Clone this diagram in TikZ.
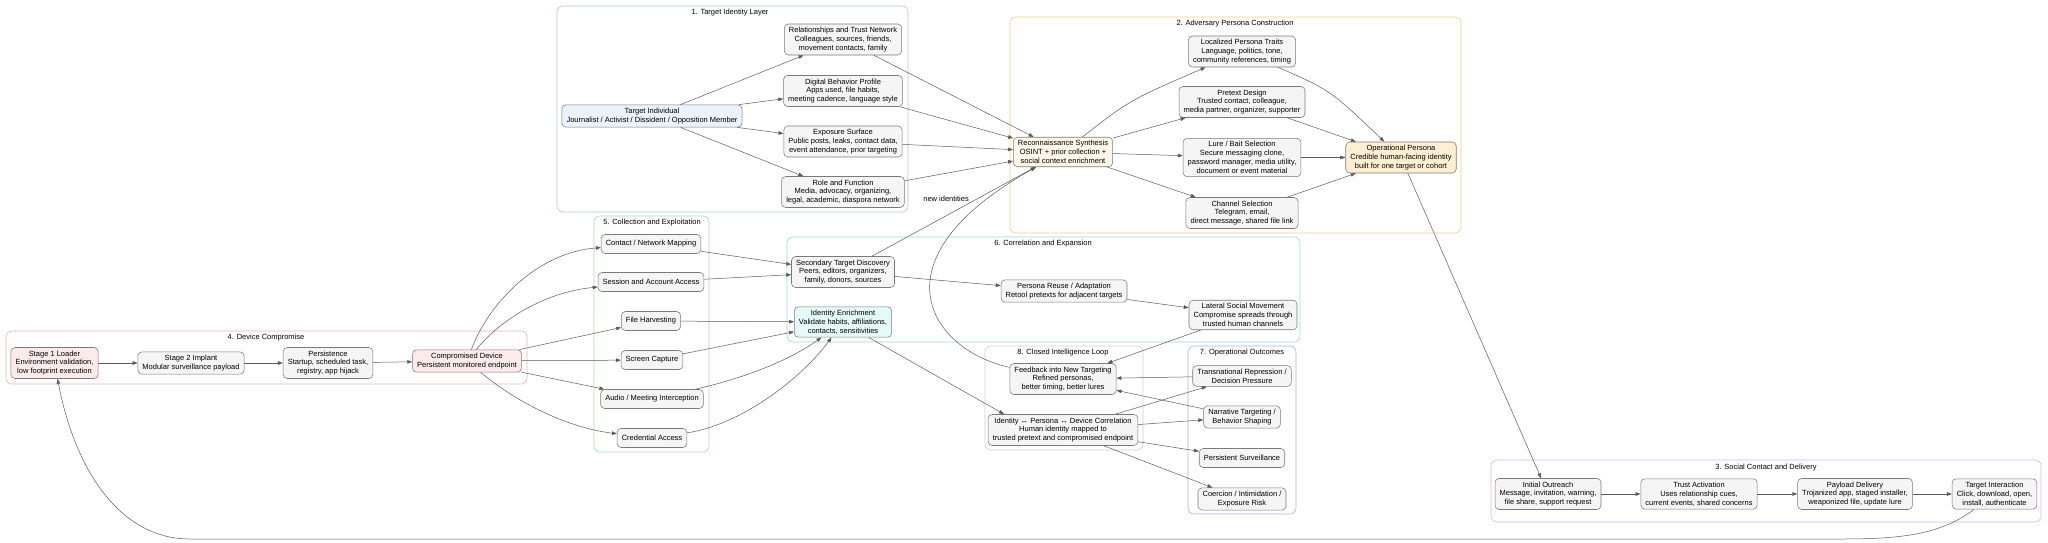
\documentclass[tikz,border=0pt]{standalone}
\usepackage{fontspec}
\setmainfont{Liberation Sans}
\usetikzlibrary{arrows.meta}
\definecolor{edgegray}{HTML}{5A5A5A}
\definecolor{nodegray}{HTML}{7A7A7A}
\definecolor{nodefill}{HTML}{F5F5F5}
\definecolor{bluefill}{HTML}{EAF2FC}
\definecolor{creamfill}{HTML}{FFF7EA}
\definecolor{orangefill}{HTML}{FFEFD2}
\definecolor{pinkfill}{HTML}{FDEAEA}
\definecolor{cyanfill}{HTML}{E6F9F9}
\definecolor{grpblue}{HTML}{A9C4E8}
\definecolor{grporange}{HTML}{F2CF7E}
\definecolor{grpviolet}{HTML}{D3B5F2}
\definecolor{grpred}{HTML}{E9B3B3}
\definecolor{grpgreen}{HTML}{A3DBB3}
\definecolor{grpteal}{HTML}{9FD6D6}
\definecolor{grppurple}{HTML}{ADADEB}
\definecolor{grpgray}{HTML}{CFCFCF}
\begin{document}
\begin{tikzpicture}[x=1pt,y=-1pt,
  font=\fontsize{7.5}{8.8}\selectfont,
  box/.style={draw=nodegray, fill=nodefill, rounded corners=4pt, align=center,
    inner xsep=4.6pt, inner ysep=3.2pt, minimum height=19pt, line width=0.55pt},
  grp/.style={rounded corners=6pt, line width=0.6pt},
  ttl/.style={inner sep=0pt},
  edge/.style={draw=edgegray, line width=0.5pt, -{Triangle[length=5pt,width=3.6pt]}},
]
  \useasboundingbox (0,0) rectangle (2048,542);

  %% clusters
  \draw[grp, draw=grpblue] (557,6) rectangle (908,212);
  \node[ttl] at (730,13) {1. Target Identity Layer};
  \draw[grp, draw=grporange] (1010,17) rectangle (1461,233);
  \node[ttl] at (1235,24) {2. Adversary Persona Construction};
  \draw[grp, draw=grpviolet] (1491,460) rectangle (2041,522);
  \node[ttl] at (1766,468) {3. Social Contact and Delivery};
  \draw[grp, draw=grpred] (6,331) rectangle (527,384);
  \node[ttl] at (266,338) {4. Device Compromise};
  \draw[grp, draw=grpgreen] (594,216) rectangle (709,452);
  \node[ttl] at (652,223) {5. Collection and Exploitation};
  \draw[grp, draw=grpteal] (787,237) rectangle (1300,342);
  \node[ttl] at (1043,244) {6. Correlation and Expansion};
  \draw[grp, draw=grppurple] (1188,346) rectangle (1296,514);
  \node[ttl] at (1242,353) {7. Operational Outcomes};
  \draw[grp, draw=grpgray] (985,346) rectangle (1143,450);
  \node[ttl] at (1063,353) {8. Closed Intelligence Loop};

  %% target identity layer
  \node[box, fill=bluefill] (tgt) at (652,116) {Target Individual\\Journalist / Activist / Dissident / Opposition Member};
  \node[box] (rel) at (843,39.5) {Relationships and Trust Network\\Colleagues, sources, friends,\\movement contacts, family};
  \node[box] (dig) at (843,91) {Digital Behavior Profile\\Apps used, file habits,\\meeting cadence, language style};
  \node[box] (exp) at (843,141.5) {Exposure Surface\\Public posts, leaks, contact data,\\event attendance, prior targeting};
  \node[box] (role) at (843,192) {Role and Function\\Media, advocacy, organizing,\\legal, academic, diaspora network};

  %% adversary persona construction
  \node[box, fill=creamfill] (recon) at (1063,152) {Reconnaissance Synthesis\\OSINT + prior collection +\\social context enrichment};
  \node[box] (traits) at (1242,51.5) {Localized Persona Traits\\Language, politics, tone,\\community references, timing};
  \node[box] (pretext) at (1242,102) {Pretext Design\\Trusted contact, colleague,\\media partner, organizer, supporter};
  \node[box] (lure) at (1242,157.5) {Lure / Bait Selection\\Secure messaging clone,\\password manager, media utility,\\document or event material};
  \node[box] (channel) at (1242,213) {Channel Selection\\Telegram, email,\\direct message, shared file link};
  \node[box, fill=orangefill] (oper) at (1401,157.5) {Operational Persona\\Credible human-facing identity\\built for one target or cohort};

  %% social contact and delivery
  \node[box] (outreach) at (1548,494) {Initial Outreach\\Message, invitation, warning,\\file share, support request};
  \node[box] (trust) at (1699,494) {Trust Activation\\Uses relationship cues,\\current events, shared concerns};
  \node[box] (payload) at (1855,494) {Payload Delivery\\Trojanized app, staged installer,\\weaponized file, update lure};
  \node[box] (interact) at (1994.5,494) {Target Interaction\\Click, download, open,\\install, authenticate};

  %% device compromise
  \node[box, fill=pinkfill] (loader) at (54.5,363) {Stage 1 Loader\\Environment validation,\\low footprint execution};
  \node[box] (implant) at (191,363) {Stage 2 Implant\\Modular surveillance payload};
  \node[box] (persist) at (328,363) {Persistence\\Startup, scheduled task,\\registry, app hijack};
  \node[box, fill=pinkfill] (device) at (467,361) {Compromised Device\\Persistent monitored endpoint};

  %% collection and exploitation
  \node[box] (contact) at (651,244) {Contact / Network Mapping};
  \node[box] (session) at (651,282) {Session and Account Access};
  \node[box] (files) at (651,321) {File Harvesting};
  \node[box] (screen) at (652,360) {Screen Capture};
  \node[box] (audio) at (652,399) {Audio / Meeting Interception};
  \node[box] (cred) at (652,438) {Credential Access};

  %% correlation and expansion
  \node[box] (second) at (843,272) {Secondary Target Discovery\\Peers, editors, organizers,\\family, donors, sources};
  \node[box, fill=cyanfill] (enrich) at (843,322) {Identity Enrichment\\Validate habits, affiliations,\\contacts, sensitivities};
  \node[box] (reuse) at (1064,291) {Persona Reuse / Adaptation\\Retool pretexts for adjacent targets};
  \node[box] (lateral) at (1243,315) {Lateral Social Movement\\Compromise spreads through\\trusted human channels};

  %% closed loop and outcomes
  \node[box] (feedback) at (1063,379) {Feedback into New Targeting\\Refined personas,\\better timing, better lures};
  \node[box] (correl) at (1063,430) {Identity ↔ Persona ↔ Device Correlation\\Human identity mapped to\\trusted pretext and compromised endpoint};
  \node[box] (repress) at (1242,376) {Transnational Repression /\\Decision Pressure};
  \node[box] (narrative) at (1242,417) {Narrative Targeting /\\Behavior Shaping};
  \node[box] (surveil) at (1242,458) {Persistent Surveillance};
  \node[box] (coerce) at (1242,499) {Coercion / Intimidation /\\Exposure Risk};

  %% edges
  \foreach \t in {rel,dig,exp,role} {
    \draw[edge] (tgt) -- (\t);
    \draw[edge] (\t) -- (recon);
  }
  \draw[edge] (recon) .. controls (1130,100) .. (traits);
  \draw[edge] (recon) -- (pretext);
  \draw[edge] (recon) -- (lure);
  \draw[edge] (recon) -- (channel);
  \draw[edge] (traits) .. controls (1330,90) .. (oper);
  \draw[edge] (pretext) -- (oper);
  \draw[edge] (lure) -- (oper);
  \draw[edge] (channel) -- (oper);
  \draw[edge] (oper) -- (outreach);
  \draw[edge] (outreach) -- (trust);
  \draw[edge] (trust) -- (payload);
  \draw[edge] (payload) -- (interact);
  \draw[edge] (interact) .. controls (1940,535) and (1900,539) .. (1840,539)
    -- (190,539) .. controls (120,539) and (75,470) .. (loader);
  \draw[edge] (loader) -- (implant);
  \draw[edge] (implant) -- (persist);
  \draw[edge] (persist) -- (device);
  \draw[edge] (device) .. controls (490,300) and (540,252) .. (contact);
  \draw[edge] (device) .. controls (500,320) and (545,292) .. (session);
  \draw[edge] (device) -- (files);
  \draw[edge] (device) -- (screen);
  \draw[edge] (device) -- (audio);
  \draw[edge] (device) .. controls (520,405) and (570,428) .. (cred);
  \draw[edge] (contact) -- (second);
  \draw[edge] (session) -- (second);
  \draw[edge] (files) -- (enrich);
  \draw[edge] (screen) -- (enrich);
  \draw[edge] (audio) .. controls (745,378) and (790,360) .. (enrich);
  \draw[edge] (cred) .. controls (740,425) and (800,380) .. (enrich);
  \draw[edge] (second) -- node[pos=0.6, above left, inner sep=1pt] (newid) {new identities} (recon);
  \draw[edge] (second) -- (reuse);
  \draw[edge] (reuse) -- (lateral);
  \draw[edge] (lateral) -- (feedback);
  \draw[edge] (enrich.-31) -- (correl.165);
  \draw[edge] (correl) -- (repress);
  \draw[edge] (correl) -- (narrative);
  \draw[edge] (correl) -- (surveil);
  \draw[edge] (correl) -- (coerce);
  \draw[edge] (repress) -- (feedback);
  \draw[edge] (narrative) -- (feedback);
  \draw[edge] (feedback) .. controls (930,350) and (870,260) .. (recon);

\end{tikzpicture}
\end{document}
